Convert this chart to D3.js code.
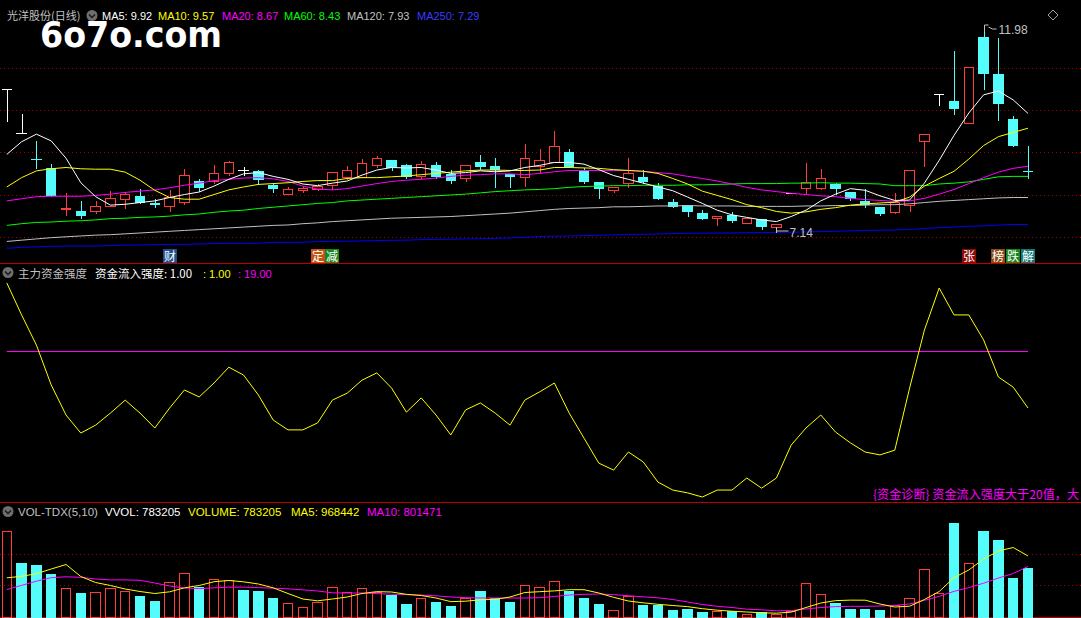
<!DOCTYPE html>
<html><head><meta charset="utf-8">
<script src="https://cdn.jsdelivr.net/npm/d3@7"></script>
<style>html,body{margin:0;padding:0;background:#000;overflow:hidden}svg{display:block}</style>
</head><body>
<svg id="chart" width="1081" height="618"></svg>
<script>
// ---------- DATA ----------
const days = ["D01","D02","D03","D04","D05","D06","D07","D08","D09","D10","D11","D12","D13","D14","D15","D16","D17","D18","D19","D20","D21","D22","D23","D24","D25","D26","D27","D28","D29","D30","D31","D32","D33","D34","D35","D36","D37","D38","D39","D40","D41","D42","D43","D44","D45","D46","D47","D48","D49","D50","D51","D52","D53","D54","D55","D56","D57","D58","D59","D60","D61","D62","D63","D64","D65","D66","D67","D68","D69","D70"];
const opens  = [10.51,9.46,8.84,8.63,7.66,7.61,7.60,7.74,7.90,7.97,7.81,7.72,7.82,8.32,8.32,8.50,8.57,8.56,8.23,8.02,8.11,8.13,8.23,8.42,8.42,8.71,8.81,8.70,8.44,8.70,8.49,8.38,8.77,8.67,8.48,8.42,8.68,8.78,9.01,8.56,8.30,8.11,8.27,8.41,8.21,7.82,7.75,7.56,7.45,7.51,7.32,7.43,7.24,8.03,8.16,8.16,8.25,8.05,7.85,7.71,7.59,7.75,9.27,10.37,10.21,9.70,11.73,10.85,9.79,8.55];
const highs  = [10.51,9.91,9.27,8.72,8.04,7.85,7.85,8.08,8.05,8.13,7.90,8.11,8.61,8.36,8.69,8.79,8.66,8.58,8.27,8.17,8.20,8.25,8.53,8.67,8.84,8.91,8.81,8.72,8.79,8.77,8.58,8.69,8.94,8.86,8.48,9.20,9.07,9.50,9.07,8.62,8.30,8.17,8.86,8.58,8.27,7.90,7.75,7.63,7.49,7.58,7.44,7.43,7.30,8.03,8.74,8.61,8.27,8.07,8.13,7.71,8.03,8.57,9.43,10.37,11.40,11.02,11.98,11.70,9.85,9.15];
const lows   = [9.75,9.46,8.64,7.97,7.52,7.45,7.56,7.74,7.69,7.79,7.70,7.62,7.78,8.09,8.27,8.47,8.46,8.25,8.07,8.02,8.07,8.11,8.12,8.36,8.42,8.66,8.58,8.38,8.38,8.38,8.27,8.33,8.61,8.18,8.19,8.20,8.50,8.78,8.65,8.27,7.93,8.07,8.17,8.27,7.89,7.71,7.50,7.42,7.28,7.36,7.32,7.19,7.14,8.03,8.03,8.13,8.01,7.86,7.71,7.52,7.56,7.61,8.68,10.12,9.91,9.70,10.50,9.77,9.16,8.38];
const closes = [10.51,9.46,8.83,7.97,7.68,7.49,7.73,7.93,8.01,7.79,7.76,7.95,8.46,8.16,8.50,8.77,8.57,8.34,8.12,8.13,8.15,8.21,8.53,8.58,8.75,8.87,8.62,8.41,8.72,8.41,8.32,8.69,8.65,8.58,8.42,8.86,8.81,9.14,8.65,8.30,8.14,8.17,8.51,8.30,7.89,7.71,7.59,7.42,7.49,7.38,7.44,7.24,7.30,8.03,8.29,8.38,8.13,7.89,7.75,7.54,7.83,8.57,9.43,10.37,10.02,11.02,10.85,10.15,9.16,8.53];
const ma5   = [8.95,9.25,9.43,9.27,8.86,8.28,7.95,7.75,7.77,7.81,7.85,7.93,8.00,8.06,8.20,8.36,8.49,8.52,8.43,8.36,8.25,8.21,8.27,8.32,8.46,8.58,8.64,8.63,8.64,8.58,8.50,8.52,8.56,8.54,8.56,8.64,8.69,8.76,8.76,8.72,8.59,8.45,8.36,8.27,8.18,8.09,7.94,7.79,7.63,7.52,7.46,7.40,7.36,7.48,7.63,7.85,8.01,8.14,8.10,7.97,7.86,7.87,8.27,8.81,9.40,9.93,10.36,10.45,10.24,9.92];
const ma10  = [8.18,8.40,8.56,8.61,8.64,8.61,8.60,8.60,8.53,8.34,8.10,7.93,7.89,7.89,8.00,8.11,8.18,8.24,8.26,8.28,8.31,8.33,8.33,8.38,8.40,8.40,8.42,8.44,8.47,8.50,8.53,8.56,8.58,8.58,8.57,8.57,8.58,8.64,8.64,8.63,8.62,8.59,8.57,8.55,8.50,8.38,8.25,8.08,7.98,7.88,7.76,7.69,7.60,7.56,7.59,7.65,7.69,7.75,7.78,7.80,7.82,7.94,8.20,8.38,8.55,8.84,9.16,9.37,9.47,9.57];
const ma20  = [7.85,7.90,7.95,7.96,7.96,7.96,7.98,8.01,8.05,8.08,8.11,8.16,8.22,8.27,8.33,8.36,8.39,8.40,8.37,8.31,8.20,8.13,8.11,8.14,8.20,8.26,8.31,8.34,8.36,8.39,8.43,8.46,8.47,8.49,8.49,8.47,8.50,8.54,8.57,8.57,8.57,8.57,8.57,8.55,8.52,8.49,8.43,8.38,8.32,8.25,8.17,8.11,8.07,8.03,8.00,7.97,7.95,7.91,7.88,7.86,7.84,7.85,7.91,8.01,8.12,8.26,8.40,8.53,8.62,8.67];
const ma60  = [7.27,7.31,7.34,7.35,7.37,7.38,7.40,7.43,7.44,7.46,7.47,7.49,7.52,7.54,7.58,7.61,7.63,7.67,7.70,7.73,7.76,7.79,7.81,7.85,7.87,7.89,7.91,7.93,7.95,7.97,7.99,8.01,8.04,8.07,8.09,8.11,8.12,8.14,8.17,8.19,8.20,8.21,8.21,8.22,8.22,8.22,8.23,8.23,8.24,8.25,8.26,8.26,8.26,8.27,8.27,8.28,8.27,8.27,8.26,8.25,8.21,8.21,8.21,8.25,8.27,8.30,8.36,8.42,8.43,8.43];
const ma120 = [6.89,6.92,6.95,6.98,7.00,7.02,7.04,7.05,7.07,7.09,7.11,7.13,7.15,7.17,7.19,7.21,7.23,7.25,7.27,7.28,7.31,7.33,7.36,7.38,7.40,7.42,7.44,7.45,7.46,7.47,7.48,7.50,7.52,7.54,7.56,7.59,7.62,7.65,7.67,7.68,7.69,7.71,7.71,7.72,7.73,7.73,7.74,7.73,7.73,7.73,7.72,7.72,7.72,7.72,7.73,7.73,7.74,7.74,7.75,7.76,7.76,7.78,7.81,7.84,7.86,7.88,7.90,7.92,7.93,7.93];
const ma250 = [6.728,6.751,6.761,6.773,6.782,6.782,6.782,6.792,6.804,6.806,6.813,6.820,6.822,6.830,6.839,6.844,6.846,6.846,6.870,6.870,6.872,6.886,6.893,6.896,6.901,6.910,6.917,6.920,6.934,6.938,6.943,6.950,6.955,6.962,6.974,6.988,7.007,7.014,7.019,7.028,7.036,7.045,7.054,7.059,7.066,7.076,7.083,7.085,7.090,7.092,7.097,7.099,7.104,7.109,7.116,7.123,7.130,7.142,7.149,7.156,7.161,7.173,7.199,7.215,7.230,7.249,7.260,7.275,7.291,7.29];
const strength = [40.5,30.4,20.9,8.3,-1.2,-6.9,-4.4,-0.6,3.5,-0.6,-5.3,1.0,6.7,4.5,8.9,13.9,11.4,5.1,-2.8,-5.9,-5.9,-3.7,3.5,5.7,9.8,12.1,7.3,-0.3,4.2,-1.2,-7.5,0.4,2.6,-0.6,-4.4,3.5,6.1,8.9,-0.6,-8.5,-16.4,-18.6,-12.9,-16.0,-22.4,-24.9,-25.8,-27.1,-24.9,-24.9,-21.1,-24.3,-21.1,-10.7,-5.3,-1.2,-6.6,-10.0,-12.9,-13.8,-12.3,7.3,25.6,38.9,30.4,30.4,22.5,10.8,7.6,1.0];
const strengthLevel = 19;
const volumes = [1363000,856000,829000,680000,453000,376000,394000,459000,410000,326000,245000,552000,701000,475000,602000,586000,426000,410000,294000,211000,157000,227000,470000,387000,453000,387000,344000,195000,304000,227000,162000,304000,410000,294000,227000,502000,470000,566000,406000,291000,208000,102000,323000,190000,190000,109000,125000,75000,86000,86000,42000,70000,42000,86000,533000,368000,224000,125000,125000,109000,190000,301000,765000,384000,1499000,864000,1366000,1218000,622000,783205];
const volUp = [1,0,0,0,1,0,1,1,1,0,0,1,1,0,1,1,0,0,0,1,1,1,1,1,1,1,0,0,1,0,0,1,0,0,0,1,1,1,0,0,0,1,1,0,0,0,0,0,1,0,1,0,1,1,1,1,0,0,0,0,1,1,1,1,0,1,0,0,0,0];
const volMa5  = [619000,643000,685000,760000,832000,640000,544000,496000,440000,400000,368000,395000,459000,496000,557000,576000,555000,520000,459000,368000,280000,251000,280000,312000,368000,398000,392000,355000,336000,296000,238000,245000,267000,274000,312000,384000,397000,410000,429000,429000,376000,307000,248000,219000,195000,176000,158000,125000,101000,85000,72000,59000,53000,70000,144000,216000,254000,262000,261000,200000,152000,165000,272000,400000,622000,744000,920000,1048000,1104000,968442];
const volMa10 = [432000,498000,565000,621000,635000,627000,600000,586000,586000,579000,536000,488000,456000,446000,459000,469000,470000,462000,453000,443000,427000,408000,379000,376000,376000,366000,357000,350000,344000,331000,312000,302000,296000,296000,296000,296000,301000,320000,344000,355000,360000,350000,333000,315000,299000,272000,232000,192000,163000,144000,117000,107000,91000,94000,120000,144000,158000,163000,163000,168000,178000,200000,258000,323000,402000,462000,533000,616000,688000,801471];
const priceGrid = [7, 8, 9, 10, 11];
const volGrid = [500000, 1000000];
const markerIdx   = [11, 21, 22, 65, 67, 68, 69];
const markerText  = ["财", "定", "减", "张", "榜", "跌", "解"];
const markerColor = ["#1d4f8c", "#c8500f", "#17861c", "#8c0a0a", "#8a4a12", "#17861c", "#0f7a7a"];

// ---------- SETUP ----------
const svg = d3.select("#chart");
const W = 1081, H = 618;
const RED = "#ff3c3c", CYAN = "#54fcfc", GRIDRED = "#a00000", SEP = "#c00000";
const FONT = "'Liberation Sans', Arial, sans-serif";
const CJK = "'Noto Sans CJK SC', sans-serif";

svg.append("rect").attr("width", W).attr("height", H).attr("fill", "#000");

const x = d3.scaleBand().domain(d3.range(days.length)).range([-0.6, 1035.4]).paddingInner(0.3).paddingOuter(0.15);
const bw = x.bandwidth();
const cx = i => x(i) + bw / 2;

const yP = d3.scaleLinear().domain([7, 12]).range([236.8, 25.55]);
const yS = d3.scaleLinear().domain([-30, 45]).range([506.2, 268.7]);
const yV = d3.scaleLinear().domain([0, 1000000]).range([616.5, 554]);

// ---------- separators ----------
const sepG = svg.append("g").attr("shape-rendering", "crispEdges");
[263.5, 502.5, 617.5].forEach(y => sepG.append("line").attr("x1", 0).attr("x2", W).attr("y1", y).attr("y2", y).attr("stroke", SEP));

// ---------- grids ----------
const gridG = svg.append("g").attr("shape-rendering", "crispEdges");
gridG.selectAll(".pg").data(priceGrid).join("line")
  .attr("x1", 0).attr("x2", W)
  .attr("y1", d => Math.round(yP(d)) + 0.5).attr("y2", d => Math.round(yP(d)) + 0.5)
  .attr("stroke", GRIDRED).attr("stroke-dasharray", "1,3");
gridG.selectAll(".vg").data(volGrid).join("line")
  .attr("x1", 0).attr("x2", W)
  .attr("y1", d => Math.round(yV(d)) + 0.5).attr("y2", d => Math.round(yV(d)) + 0.5)
  .attr("stroke", GRIDRED).attr("stroke-dasharray", "1,3");

// ---------- candles ----------
const cG = svg.append("g").attr("shape-rendering", "crispEdges");
days.forEach((d, i) => {
  const o = opens[i], c = closes[i], h = highs[i], l = lows[i];
  const xl = Math.round(x(i)), xr = Math.round(x(i) + bw), xm = Math.round(cx(i)) + 0.5;
  const yo = yP(o), yc = yP(c), yh = yP(h), yl = yP(l);
  if (o === c) {
    const col = "#ffffff";
    const yy = Math.round(yo) + 0.5;
    cG.append("line").attr("x1", xl).attr("x2", xr).attr("y1", yy).attr("y2", yy).attr("stroke", col);
    cG.append("line").attr("x1", xm).attr("x2", xm).attr("y1", Math.round(yh)).attr("y2", Math.round(yl) + 1).attr("stroke", col);
  } else if (c > o) {
    const top = Math.round(yc) + 0.5, bot = Math.round(yo) + 0.5;
    cG.append("line").attr("x1", xm).attr("x2", xm).attr("y1", Math.round(yh)).attr("y2", top).attr("stroke", RED);
    cG.append("line").attr("x1", xm).attr("x2", xm).attr("y1", bot).attr("y2", Math.round(yl) + 1).attr("stroke", RED);
    cG.append("rect").attr("x", xl + 0.5).attr("y", top).attr("width", xr - xl - 1).attr("height", Math.max(1, bot - top))
      .attr("fill", "#000").attr("stroke", RED);
  } else {
    cG.append("line").attr("x1", xm).attr("x2", xm).attr("y1", Math.round(yh)).attr("y2", Math.round(yl) + 1).attr("stroke", CYAN);
    const top = Math.round(yo), bot = Math.round(yc);
    cG.append("rect").attr("x", xl).attr("y", top).attr("width", xr - xl).attr("height", Math.max(1, bot - top)).attr("fill", CYAN);
  }
});

// ---------- MA lines (drawn over the candles) ----------
const lineP = d3.line().x((d, i) => cx(i)).y(d => yP(d));
const maG = svg.append("g").attr("fill", "none").attr("stroke-width", 1);
[[ma250, "#0000ff"], [ma120, "#c0c0c0"], [ma60, "#00ff00"], [ma20, "#ff00ff"], [ma10, "#ffff00"], [ma5, "#ffffff"]]
  .forEach(([arr, col]) => maG.append("path").attr("d", lineP(arr)).attr("stroke", col));

// high / low labels
const iMax = d3.maxIndex(highs), iMin = d3.minIndex(lows);
const lab = svg.append("g").attr("fill", "#c0c0c0").attr("font-family", FONT).attr("font-size", 12);
{
  const hx = Math.round(cx(iMax)) + 0.5, hy = Math.round(yP(highs[iMax]));
  svg.append("path").attr("d", `M${hx},${hy + 6} V${hy - 1} H${hx + 4} M${hx + 4},${hy + 1} L${hx + 8},${hy + 3} L${hx + 12},${hy + 3}`)
    .attr("stroke", "#c0c0c0").attr("fill", "none");
  lab.append("text").attr("x", hx + 14).attr("y", hy + 8).text(highs[iMax].toFixed(2));
  const lx = Math.round(cx(iMin)) + 0.5, ly = Math.round(yP(lows[iMin]));
  svg.append("path").attr("d", `M${lx},${ly - 4} V${ly + 2} M${lx},${ly} H${lx + 12}`)
    .attr("stroke", "#c0c0c0").attr("fill", "none");
  lab.append("text").attr("x", lx + 13).attr("y", ly + 6).text(lows[iMin].toFixed(2));
}

// markers
const mk = svg.append("g");
markerIdx.forEach((idx, k) => {
  const mx = Math.round(cx(idx)) - 7;
  mk.append("rect").attr("x", mx).attr("y", 249).attr("width", 14).attr("height", 14).attr("fill", markerColor[k]);
  mk.append("text").attr("x", mx + 7).attr("y", 261).attr("text-anchor", "middle").attr("fill", "#fff")
    .attr("font-family", CJK).attr("font-size", 12).text(markerText[k]);
});

// ---------- indicator panel ----------
svg.append("line").attr("x1", cx(0)).attr("x2", cx(days.length - 1))
  .attr("y1", Math.round(yS(strengthLevel)) + 0.5).attr("y2", Math.round(yS(strengthLevel)) + 0.5)
  .attr("stroke", "#ff00ff").attr("stroke-width", 1);
svg.append("path").attr("d", d3.line().x((d, i) => cx(i)).y(d => yS(d))(strength))
  .attr("fill", "none").attr("stroke", "#ffff00").attr("stroke-width", 1);
svg.append("text").attr("x", 873).attr("y", 499).attr("fill", "#ff00ff").attr("font-family", CJK).attr("font-size", 12)
  .attr("textLength", 206).attr("lengthAdjust", "spacingAndGlyphs")
  .text("{资金诊断} 资金流入强度大于20值，大");

// ---------- volume panel ----------
const vG = svg.append("g").attr("shape-rendering", "crispEdges");
volumes.forEach((v, i) => {
  const xl = Math.round(x(i)), xr = Math.round(x(i) + bw);
  const top = Math.round(yV(v)), base = Math.round(yV(0));
  if (volUp[i]) {
    vG.append("rect").attr("x", xl + 0.5).attr("y", top + 0.5).attr("width", xr - xl - 1).attr("height", base - top)
      .attr("fill", "none").attr("stroke", RED);
  } else {
    vG.append("rect").attr("x", xl).attr("y", top).attr("width", xr - xl).attr("height", base - top + 1).attr("fill", CYAN);
  }
});
const lineV = d3.line().x((d, i) => cx(i)).y(d => yV(d));
svg.append("path").attr("d", lineV(volMa10)).attr("fill", "none").attr("stroke", "#ff00ff");
svg.append("path").attr("d", lineV(volMa5)).attr("fill", "none").attr("stroke", "#ffff00");

// ---------- headers ----------
function chev(g, cxp, cyp) {
  g.append("circle").attr("cx", cxp).attr("cy", cyp).attr("r", 5.5).attr("fill", "#6e6e6e");
  g.append("path").attr("d", `M${cxp - 3},${cyp - 1} L${cxp},${cyp + 2} L${cxp + 3},${cyp - 1}`).attr("stroke", "#1a1a1a").attr("stroke-width", 1.5).attr("fill", "none");
}
function header(items, y) {
  items.forEach(([s, col, xp, fam, fs]) => {
    svg.append("text").attr("x", xp).attr("y", y).attr("fill", col).attr("font-size", fs || 11)
      .attr("font-family", fam || FONT).text(s);
  });
}
const hg = svg.append("g");
header([
  ["光洋股份(日线)", "#c0c0c0", 7, CJK, 11]
], 20);
chev(hg, 92, 15.5);
header([
  ["MA5: " + ma5[ma5.length - 1].toFixed(2), "#ffffff", 102],
  ["MA10: " + ma10[ma10.length - 1].toFixed(2), "#ffff00", 158],
  ["MA20: " + ma20[ma20.length - 1].toFixed(2), "#ff00ff", 222],
  ["MA60: " + ma60[ma60.length - 1].toFixed(2), "#00ff00", 284],
  ["MA120: " + ma120[ma120.length - 1].toFixed(2), "#c0c0c0", 347],
  ["MA250: " + ma250[ma250.length - 1].toFixed(2), "#3c3cff", 417]
], 20);
chev(hg, 8, 272.5);
header([
  ["主力资金强度", "#c0c0c0", 18, CJK, 11.5],
  ["资金流入强度: " + strength[strength.length - 1].toFixed(2), "#ffffff", 95, CJK, 11.5],
  [": " + strength[strength.length - 1].toFixed(2), "#ffff00", 203],
  [": " + strengthLevel.toFixed(2), "#ff00ff", 238]
], 277.5);
chev(hg, 8, 511.5);
const lastV = volumes[volumes.length - 1];
header([
  ["VOL-TDX(5,10)", "#c0c0c0", 18, FONT, 11.5],
  ["VVOL: " + lastV, "#ffffff", 105, FONT, 11.5],
  ["VOLUME: " + lastV, "#ffff00", 188, FONT, 11.5],
  ["MA5: " + volMa5[volMa5.length - 1], "#ffff00", 291, FONT, 11.5],
  ["MA10: " + volMa10[volMa10.length - 1], "#ff00ff", 367, FONT, 11.5]
], 515.5);

// right top icon
svg.append("path").attr("d", "M1053,10 L1058,15 L1053,20 L1048,15 Z").attr("fill", "none").attr("stroke", "#a0a0a0");

// watermark
svg.append("text").attr("x", 40).attr("y", 47).attr("fill", "#ffffff").attr("font-family", "'DejaVu Sans', sans-serif")
  .attr("font-weight", "bold").attr("font-size", 35).attr("textLength", 182).attr("lengthAdjust", "spacingAndGlyphs").text("6o7o.com");
</script>
</body></html>
